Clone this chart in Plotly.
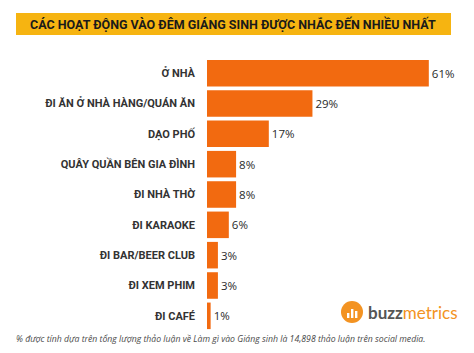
import plotly.graph_objects as go

categories = ["Ở NHÀ", "ĐI ĂN Ở NHÀ HÀNG/QUÁN ĂN", "DẠO PHỐ", "QUÂY QUẦN BÊN GIA ĐÌNH",
              "ĐI NHÀ THỜ", "ĐI KARAOKE", "ĐI BAR/BEER CLUB", "ĐI XEM PHIM", "ĐI CAFÉ"]
values = [61, 29, 17, 8, 8, 6, 3, 3, 1]
value_labels = ["61%", "29%", "17%", "8%", "8%", "6%", "3%", "3%", "1%"]

title_text = "CÁC HOẠT ĐỘNG VÀO ĐÊM GIÁNG SINH ĐƯỢC NHẮC ĐẾN NHIỀU NHẤT"
footnote = "% được tính dựa trên tổng lượng thảo luận về Làm gì vào Giáng sinh là 14,898 thảo luận trên social media."

W, H = 474, 353
L, R, T, B = 207, 27, 58, 22
PW, PH = W - L - R, H - T - B

def px(x):
    return (x - L) / PW

def py(y):
    return 1 - (y - T) / PH

fig = go.Figure()
fig.add_trace(go.Bar(
    x=values, y=categories, orientation="h",
    marker=dict(color="#F26A10", line=dict(width=0)),
    width=0.875,
    text=value_labels, textposition="outside",
    textfont=dict(family="Open Sans", size=11.5, color="#2a2a2a"),
    cliponaxis=False,
))

shapes = [
    dict(type="rect", xref="paper", yref="paper",
         x0=px(16), x1=px(451), y0=py(35), y1=py(13),
         fillcolor="#F6B411", line=dict(width=0), layer="below"),
    dict(type="circle", xref="paper", yref="paper",
         x0=px(341), x1=px(363), y0=py(323), y1=py(301),
         fillcolor="#F39322", line=dict(width=0)),
]
for bx, top in [(347, 313), (351, 309), (355, 311)]:
    shapes.append(dict(type="rect", xref="paper", yref="paper",
                       x0=px(bx), x1=px(bx + 2.4), y0=py(318), y1=py(top),
                       fillcolor="white", line=dict(width=0)))

annotations = [
    dict(text="<b>" + title_text + "</b>", xref="paper", yref="paper",
         x=px(233), y=py(24), xanchor="center", yanchor="middle", showarrow=False,
         font=dict(family="Roboto", size=12.5, color="#1a1a1a")),
    dict(text="<i>" + footnote + "</i>", xref="paper", yref="paper",
         x=px(14), y=py(339), xanchor="left", yanchor="middle", showarrow=False,
         font=dict(family="Open Sans", size=8.7, color="#4a4a4a")),
    dict(text="<b>buzz</b><span style='color:#F39322'>metrics</span>", xref="paper", yref="paper",
         x=px(366), y=py(312), xanchor="left", yanchor="middle", showarrow=False,
         font=dict(family="Lato", size=17, color="#555555")),
]

fig.update_layout(
    width=W, height=H,
    margin=dict(l=L, r=R, t=T, b=B),
    paper_bgcolor="white", plot_bgcolor="white",
    showlegend=False,
    shapes=shapes, annotations=annotations,
    xaxis=dict(range=[0, 66], visible=False, showgrid=False, zeroline=False),
    yaxis=dict(autorange="reversed", showgrid=False, zeroline=False, showline=False,
               ticks="", ticklabelstandoff=11,
               tickfont=dict(family="Roboto", size=11, color="#333333", weight="bold")),
    bargap=0.125,
)

fig.write_html("out.html")
